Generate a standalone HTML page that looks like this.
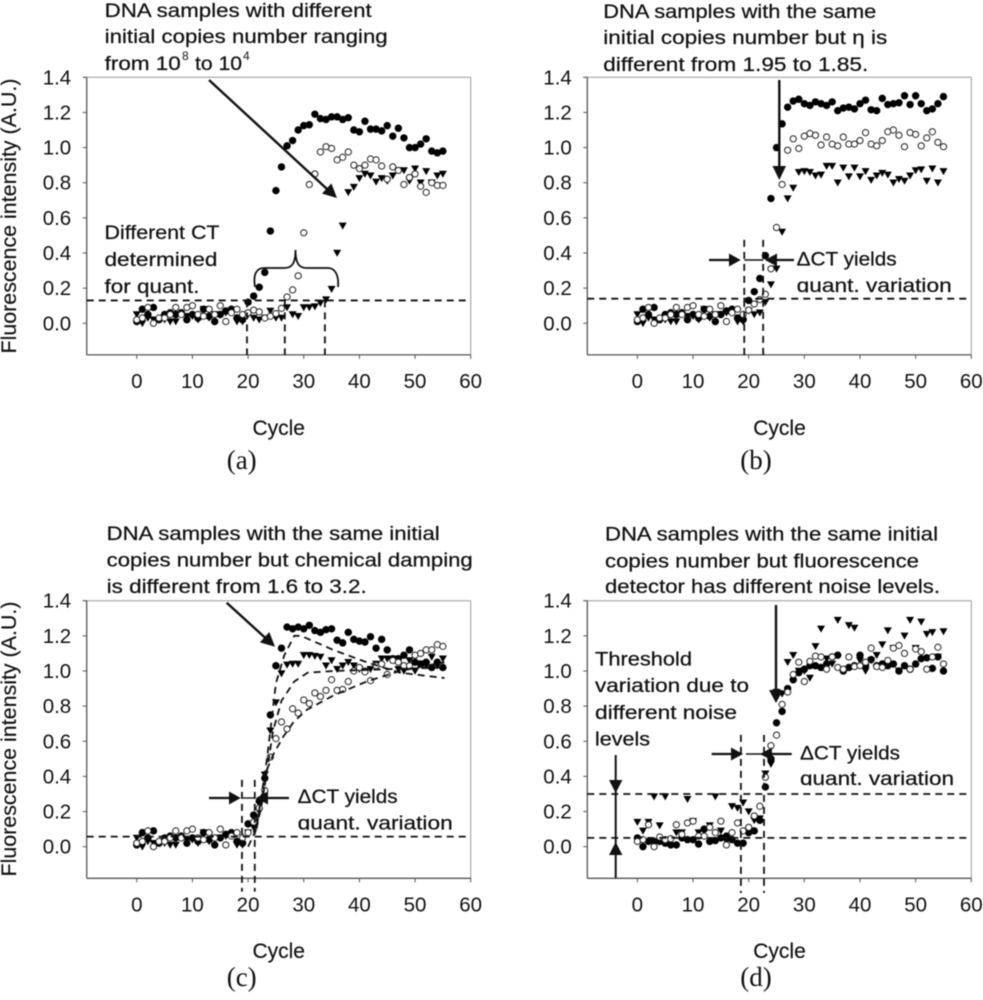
<!DOCTYPE html>
<html lang="en">
<head>
<meta charset="utf-8">
<title>Fluorescence intensity vs cycle, four panels</title>
<style>
html,body{margin:0;padding:0;background:#fff;width:983px;height:1000px;overflow:hidden}
svg{display:block;filter:blur(0.4px)}
text{font-family:"Liberation Sans",sans-serif;fill:#111}
.note{font-size:19.5px;stroke:#111;stroke-width:0.25px}
.lab{font-family:"Liberation Serif",serif;font-size:27px;text-anchor:middle}
.axt{font-size:21px;stroke:#111;stroke-width:0.15px}
</style>
</head>
<body>
<svg id="figure" width="983" height="1000" viewBox="0 0 983 1000" xmlns="http://www.w3.org/2000/svg">
<rect x="0" y="0" width="983" height="1000" fill="#fff"/>

<!-- Panel A -->
<g>
  <g id="plot-a"></g>
  <text class="axt" x="16" y="216" text-anchor="middle" textLength="275" lengthAdjust="spacingAndGlyphs" transform="rotate(-90 16 216)">Fluorescence intensity (A.U.)</text>
  <text class="axt" x="278.7" y="435" text-anchor="middle">Cycle</text>
  <text class="lab" x="241.7" y="469">(a)</text>
  <g>
    <text class="note" x="104.7" y="17" textLength="267" lengthAdjust="spacingAndGlyphs">DNA samples with different</text>
    <text class="note" x="104.7" y="43" textLength="283" lengthAdjust="spacingAndGlyphs">initial copies number ranging</text>
    <text class="note" x="104.7" y="70" textLength="76" lengthAdjust="spacingAndGlyphs">from 10</text>
    <text x="182" y="60" font-size="12">8</text>
    <text class="note" x="195" y="70" textLength="47" lengthAdjust="spacingAndGlyphs">to 10</text>
    <text x="243" y="60" font-size="12">4</text>
  </g>
  <g>
    <line x1="209" y1="80" x2="327" y2="189" stroke="#111" stroke-width="2.4"/>
    <polygon points="337,198 322,193.6 331.4,183.4" fill="#111"/>
  </g>
  <g>
    <text class="note" x="104.5" y="239" textLength="115" lengthAdjust="spacingAndGlyphs">Different CT</text>
    <text class="note" x="104.5" y="266" textLength="113" lengthAdjust="spacingAndGlyphs">determined</text>
    <text class="note" x="104.5" y="293" textLength="95" lengthAdjust="spacingAndGlyphs">for quant.</text>
  </g>
  <path d="M255,287 C253,275 256,268 264,268 L284,268 C291,268 295.5,265 295.5,250 C295.5,265 300,268 307,268 L328,268 C335,268 339,275 338,287" fill="none" stroke="#111" stroke-width="1.8"/>
</g>

<!-- Panel B -->
<g>
  <g id="plot-b"></g>
  <text class="axt" x="779.5" y="435" text-anchor="middle">Cycle</text>
  <text class="lab" x="756" y="469">(b)</text>
  <g>
    <text class="note" x="603.3" y="18" textLength="273" lengthAdjust="spacingAndGlyphs">DNA samples with the same</text>
    <text class="note" x="603.3" y="44" textLength="284" lengthAdjust="spacingAndGlyphs">initial copies number but η is</text>
    <text class="note" x="603.3" y="71" textLength="265" lengthAdjust="spacingAndGlyphs">different from 1.95 to 1.85.</text>
  </g>
  <g>
    <line x1="779.3" y1="80" x2="779.3" y2="168" stroke="#111" stroke-width="2.4"/>
    <polygon points="772.5,166 786,166 779.3,180" fill="#111"/>
  </g>
  <g>
    <line x1="709" y1="260" x2="730" y2="260" stroke="#111" stroke-width="2.2"/>
    <polygon points="729,253.5 729,266.5 740.7,260" fill="#111"/>
    <line x1="744.3" y1="260" x2="763.3" y2="260" stroke="#111" stroke-width="1.4"/>
    <line x1="794" y1="260" x2="776" y2="260" stroke="#111" stroke-width="2.2"/>
    <polygon points="777,253.5 777,266.5 765,260" fill="#111"/>
  </g>
  <text class="note" x="796.7" y="265.7" textLength="100" lengthAdjust="spacingAndGlyphs">ΔCT yields</text>
  <text class="note" x="796.7" y="292" textLength="155" lengthAdjust="spacingAndGlyphs">quant. variation</text>
  <rect x="795" y="292.5" width="30" height="4" fill="#fff"/>
</g>

<!-- Panel C -->
<g>
  <g id="plot-c"></g>
  <text class="axt" x="16" y="739" text-anchor="middle" textLength="275" lengthAdjust="spacingAndGlyphs" transform="rotate(-90 16 739)">Fluorescence intensity (A.U.)</text>
  <text class="axt" x="278.7" y="958" text-anchor="middle">Cycle</text>
  <text class="lab" x="241.7" y="986">(c)</text>
  <g>
    <text class="note" x="106.7" y="540" textLength="333" lengthAdjust="spacingAndGlyphs">DNA samples with the same initial</text>
    <text class="note" x="106.7" y="566.7" textLength="366" lengthAdjust="spacingAndGlyphs">copies number but chemical damping</text>
    <text class="note" x="106.7" y="593" textLength="260" lengthAdjust="spacingAndGlyphs">is different from 1.6 to 3.2.</text>
  </g>
  <g>
    <line x1="226.7" y1="602.7" x2="266" y2="638.5" stroke="#111" stroke-width="2.4"/>
    <polygon points="275,646.7 259.9,642.4 269.3,632" fill="#111"/>
  </g>
  <g>
    <line x1="209" y1="798" x2="230" y2="798" stroke="#111" stroke-width="2.2"/>
    <polygon points="229,791.5 229,804.5 240.7,798" fill="#111"/>
    <line x1="243" y1="798" x2="254" y2="798" stroke="#111" stroke-width="1.4"/>
    <line x1="289" y1="798" x2="267" y2="798" stroke="#111" stroke-width="2.2"/>
    <polygon points="268,791.5 268,804.5 256,798" fill="#111"/>
  </g>
  <text class="note" x="297.7" y="803" textLength="100" lengthAdjust="spacingAndGlyphs">ΔCT yields</text>
  <text class="note" x="297.7" y="829.3" textLength="155" lengthAdjust="spacingAndGlyphs">quant. variation</text>
  <rect x="296" y="829.8" width="30" height="4" fill="#fff"/>
</g>

<!-- Panel D -->
<g>
  <g id="plot-d"></g>
  <text class="axt" x="779.5" y="958" text-anchor="middle">Cycle</text>
  <text class="lab" x="756" y="986">(d)</text>
  <g>
    <text class="note" x="605" y="540.7" textLength="333" lengthAdjust="spacingAndGlyphs">DNA samples with the same initial</text>
    <text class="note" x="605" y="567.3" textLength="314" lengthAdjust="spacingAndGlyphs">copies number but fluorescence</text>
    <text class="note" x="605" y="593" textLength="335" lengthAdjust="spacingAndGlyphs">detector has different noise levels.</text>
  </g>
  <g>
    <text class="note" x="595" y="665.7" textLength="97" lengthAdjust="spacingAndGlyphs">Threshold</text>
    <text class="note" x="595" y="692" textLength="154" lengthAdjust="spacingAndGlyphs">variation due to</text>
    <text class="note" x="595" y="719" textLength="142" lengthAdjust="spacingAndGlyphs">different noise</text>
    <text class="note" x="595" y="745.7" textLength="55" lengthAdjust="spacingAndGlyphs">levels</text>
  </g>
  <g>
    <line x1="615.7" y1="755" x2="615.7" y2="878" stroke="#111" stroke-width="2"/>
    <polygon points="609,780 622.4,780 615.7,793" fill="#111"/>
    <polygon points="609,855 622.4,855 615.7,842" fill="#111"/>
  </g>
  <g>
    <line x1="776" y1="605" x2="776" y2="692" stroke="#111" stroke-width="2.4"/>
    <polygon points="769,690 783,690 776,703" fill="#111"/>
  </g>
  <g>
    <line x1="711.7" y1="754" x2="732" y2="754" stroke="#111" stroke-width="2.2"/>
    <polygon points="731,747.5 731,760.5 743,754" fill="#111"/>
    <line x1="746" y1="754" x2="763" y2="754" stroke="#111" stroke-width="1.4"/>
    <line x1="791.7" y1="754" x2="771" y2="754" stroke="#111" stroke-width="2.2"/>
    <polygon points="772,747.5 772,760.5 760,754" fill="#111"/>
  </g>
  <text class="note" x="800" y="759.3" textLength="100" lengthAdjust="spacingAndGlyphs">ΔCT yields</text>
  <text class="note" x="800" y="785" textLength="154" lengthAdjust="spacingAndGlyphs">quant. variation</text>
  <rect x="798" y="785.5" width="30" height="4" fill="#fff"/>
</g>
</svg>

<script>
var xTickValues = [0, 10, 20, 30, 40, 50, 60];
var xTickLabels = ['0', '10', '20', '30', '40', '50', '60'];
var yTickValues = [0, 0.2, 0.4, 0.6, 0.8, 1.0, 1.2, 1.4];
var yTickLabels = ['0.0', '0.2', '0.4', '0.6', '0.8', '1.0', '1.2', '1.4'];

var aCircles = [.01,.08,.05,.09,.02,.05,.06,.05,.06,.02,.05,.03,.08,.04,.01,.05,.07,.08,.03,.02,.12,.155,.205,.29,.525,.755,.89,1.01,1.04,1.10,1.125,1.13,1.19,1.165,1.16,1.175,1.175,1.16,1.17,1.10,1.09,1.15,1.105,1.105,1.095,1.125,1.065,1.11,1.055,1.0,1.0,1.02,1.05,.98,.97,.98];
var aOpen = [.02,.03,.09,0,.03,.03,.05,.09,.05,.09,.10,.05,.04,.08,.05,.10,.01,.06,.08,.05,.06,.075,.065,.03,.04,.055,.085,.15,.19,.27,.515,.79,.85,.975,1.005,.995,.93,.945,.975,.9,.88,.9,.935,.93,.895,.82,.89,.87,.79,.83,.85,.78,.745,.80,.785,.785];
var aTriangles = [.05,0,.03,.02,.02,.02,.01,.01,.05,.04,.04,.02,.08,.03,.05,.05,.06,.07,.01,.01,.05,.03,.02,.03,.07,.03,.03,.09,.05,.04,.09,.09,.095,.115,.135,.195,.40,.555,.745,.775,.825,.85,.84,.805,.825,.81,.84,.87,.87,.81,.88,.80,.865,.80,.84,.85];
var aThresholds = [0.13];
var aCtCycles = [19.8, 26.6, 33.8];
var aCtRange = [0.13, -0.18];

var bCircles = [.01,.08,.05,.09,.02,.05,.06,.05,.06,.02,.05,.03,.08,.04,.01,.05,.07,.08,.03,.02,.13,.18,.255,.385,.71,1.0,1.135,1.23,1.265,1.275,1.25,1.24,1.26,1.25,1.24,1.26,1.21,1.225,1.23,1.22,1.25,1.27,1.215,1.21,1.28,1.245,1.25,1.255,1.295,1.245,1.295,1.25,1.21,1.22,1.25,1.29];
var bOpen = [.02,.03,.09,0,.03,.03,.05,.09,.05,.09,.10,.05,.04,.08,.05,.10,.01,.06,.08,.05,.075,.11,.135,.165,.31,.545,.79,.985,1.05,.995,1.065,1.08,1.07,1.015,1.06,1.02,1.01,1.06,1.02,1.02,1.04,1.085,1.02,1.01,1.04,1.09,1.10,1.07,1.005,1.085,1.075,1.01,1.055,1.09,1.03,1.005];
var bTriangles = [.05,0,.03,.02,.02,.02,.01,.01,.05,.04,.04,.02,.08,.03,.05,.05,.06,.07,.01,.01,.07,.05,.06,.12,.22,.31,.52,.71,.77,.86,.865,.86,.84,.845,.895,.895,.80,.885,.835,.885,.835,.865,.815,.84,.855,.845,.80,.82,.81,.84,.87,.875,.81,.88,.80,.865];
var bThresholds = [0.14];
var bCtCycles = [19.2, 22.6];
var bCtRange = [0.475, -0.2];

var cCircles = [.01,.08,.05,.09,.02,.05,.06,.05,.06,.02,.05,.03,.08,.04,.01,.05,.07,.08,.03,.02,.13,.18,.26,.39,.75,1.03,1.13,1.25,1.24,1.25,1.24,1.26,1.23,1.22,1.235,1.24,1.175,1.16,1.22,1.18,1.17,1.165,1.195,1.13,1.18,1.12,1.07,1.07,1.09,1.12,1.05,1.04,1.05,1.02,1.05,1.02];
var cOpen = [.02,.03,.09,0,.03,.03,.05,.09,.05,.09,.10,.05,.04,.08,.05,.10,.01,.06,.08,.05,.08,.14,.22,.32,.51,.615,.71,.67,.785,.76,.835,.815,.875,.855,.89,.95,.89,.895,.94,1.0,1.02,.995,.945,1.03,1.04,.98,1.06,1.05,1.03,1.03,1.09,1.10,1.12,1.12,1.15,1.14];
var cTriangles = [.05,0,.03,.02,.02,.02,.01,.01,.05,.04,.04,.02,.08,.03,.05,.05,.06,.07,.01,.01,.08,.11,.2,.41,.66,.82,.985,1.035,1.04,1.04,1.09,1.09,1.085,1.08,1.03,1.06,1.01,1.03,1.05,1.03,1.01,1.0,1.01,1.04,1.07,1.07,1.07,1.01,1.0,1.06,1.0,1.04,1.03,1.08,1.03,1.07];
var cThresholds = [0.057];
var cCtCycles = [18.9, 21.2];
var cCtRange = [0.38, -0.256];
var cFitHighCycles = [20, 21.5, 23.4, 25, 26.5, 28.3, 29.5, 35.3, 41.3, 47.3, 55.3];
var cFitHighValues = [0, .1, .5, .93, 1.09, 1.2, 1.2, 1.12, 1.05, .99, .96];
var cFitMidCycles = [21, 23, 24.5, 26, 28.3, 30.7, 35.3, 45, 55];
var cFitMidValues = [.08, .35, .66, .83, .94, .99, 1.0, 1.01, 1.02];
var cFitLowCycles = [21.5, 22.5, 23.4, 24.6, 26.4, 28.2, 30.6, 35.3, 41.3, 47.3, 55.3];
var cFitLowValues = [.1, .25, .44, .53, .63, .71, .78, .86, .94, 1.0, 1.05];

var dCircles = [.05,0,.03,.03,.03,.02,.01,.01,.05,.04,.04,.015,.1,.03,.035,.05,.06,.04,.02,.02,.08,.09,.15,.34,.5,.705,.77,.9,.95,.99,1.01,1.03,1.03,1.02,1.04,1.08,1.09,1.0,1.02,1.03,1.09,1.03,1.065,1.03,1.04,1.03,1.04,1.0,1.03,1.01,1.04,1.07,1.075,1.015,1.08,1.0];
var dOpen = [.03,.04,.125,0,.055,.04,.045,.125,.07,.135,.145,.06,.06,.11,.08,.145,.01,.08,.135,.09,.11,.175,.23,.395,.575,.635,.81,.88,.98,1.05,.94,1.055,1.085,1.08,1.01,1.08,1.02,1.01,1.08,1.025,1.03,1.05,1.13,1.025,1.02,1.06,1.13,1.145,1.1,1.01,1.125,1.11,1.01,1.08,1.135,1.04];
var dTriangles = [.14,.09,.14,.285,.12,.285,.04,.08,.08,.27,.145,.08,.09,.12,.285,.09,.03,.23,.22,.25,.2,.15,.16,.415,.47,.88,.87,1.05,1.09,1.0,1.0,.96,1.14,1.24,1.07,1.04,1.29,1.0,1.26,1.245,1.06,1.0,1.06,1.09,1.15,1.23,1.13,1.0,1.2,1.29,1.13,1.28,1.21,1.22,1.08,1.225];
var dThresholds = [0.3, 0.05];
var dCtCycles = [18.6, 22.75];
var dCtRange = [0.636, -0.264];

var xDomain = [-9, 60];
var yDomain = [-0.18, 1.4];

var NS = 'http://www.w3.org/2000/svg';

function make(tag, parent, name, attrs) {
  var el = document.createElementNS(NS, tag);
  for (var k in attrs) { el.setAttribute(k, attrs[k]); }
  
  
  parent.appendChild(el);
  return el;
}

function scaleX(frame, v) {
  return frame.left + (v - xDomain[0]) / (xDomain[1] - xDomain[0]) * frame.width;
}
function scaleY(frame, v) {
  return frame.top + (yDomain[1] - v) / (yDomain[1] - yDomain[0]) * frame.height;
}

function drawAxes(g, frame) {
  var r = frame.left + frame.width;
  var b = frame.top + frame.height;
  make('line', g, 'plot-frame-top', {x1: frame.left - 4, x2: r, y1: frame.top, y2: frame.top, stroke: '#999', 'stroke-width': 1});
  make('line', g, 'plot-frame-right', {x1: r, x2: r, y1: frame.top, y2: b, stroke: '#999', 'stroke-width': 1});
  make('line', g, 'plot-frame-left', {x1: frame.left, x2: frame.left, y1: frame.top, y2: b, stroke: '#555', 'stroke-width': 1.3});
  make('line', g, 'plot-frame-bottom', {x1: frame.left, x2: r, y1: b, y2: b, stroke: '#555', 'stroke-width': 1.3});
  xTickValues.forEach(function (v, i) {
    var x = scaleX(frame, v);
    make('line', g, 'x-tick', {x1: x, x2: x, y1: b, y2: b + 4, stroke: '#555', 'stroke-width': 1});
    var t = make('text', g, 'x-tick-label', {x: x, y: b + 33, 'text-anchor': 'middle', 'font-size': 20.5, fill: '#222'});
    t.textContent = xTickLabels[i];
  });
  yTickValues.forEach(function (v, i) {
    var y = scaleY(frame, v);
    make('line', g, 'y-tick', {x1: frame.left - 4, x2: frame.left, y1: y, y2: y, stroke: '#555', 'stroke-width': 1});
    var t = make('text', g, 'y-tick-label', {x: frame.left - 15.5, y: y + 7, 'text-anchor': 'end', 'font-size': 20.5, fill: '#222'});
    t.textContent = yTickLabels[i];
  });
}

function drawReferenceLines(g, frame, thresholds, ctCycles, ctRange) {
  thresholds.forEach(function (v) {
    var y = scaleY(frame, v);
    make('line', g, 'threshold-line', {x1: frame.left, x2: frame.left + frame.width, y1: y, y2: y, stroke: '#111', 'stroke-width': 1.8, 'stroke-dasharray': '7 5'});
  });
  ctCycles.forEach(function (c) {
    var x = scaleX(frame, c);
    make('line', g, 'ct-line', {x1: x, x2: x, y1: scaleY(frame, ctRange[0]), y2: scaleY(frame, ctRange[1]), stroke: '#111', 'stroke-width': 1.8, 'stroke-dasharray': '7 5'});
  });
}

function drawFit(g, frame, cycles, values) {
  var d = cycles.map(function (c, i) {
    return (i ? 'L' : 'M') + scaleX(frame, c).toFixed(1) + ',' + scaleY(frame, values[i]).toFixed(1);
  }).join(' ');
  make('path', g, 'fit-curve', {d: d, fill: 'none', stroke: '#111', 'stroke-width': 1.8, 'stroke-dasharray': '7 5'});
}

function drawCircles(g, frame, values) {
  values.forEach(function (v, i) {
    make('circle', g, 'filled-circle-point', {cx: scaleX(frame, i), cy: scaleY(frame, v), r: 3.7, fill: '#000'});
  });
}
function drawOpen(g, frame, values) {
  values.forEach(function (v, i) {
    make('circle', g, 'open-circle-point', {cx: scaleX(frame, i), cy: scaleY(frame, v), r: 3.1, fill: '#fff', stroke: '#222', 'stroke-width': 1});
  });
}
function drawTriangles(g, frame, values) {
  values.forEach(function (v, i) {
    var x = scaleX(frame, i);
    var y = scaleY(frame, v);
    var pts = (x - 4) + ',' + (y - 3.2) + ' ' + (x + 4) + ',' + (y - 3.2) + ' ' + x + ',' + (y + 3.8);
    make('polygon', g, 'triangle-point', {points: pts, fill: '#000'});
  });
}

function drawPanel(id, frame, circles, open, triangles, thresholds, ctCycles, ctRange) {
  var g = document.getElementById(id);
  drawAxes(g, frame);
  drawCircles(g, frame, circles);
  drawTriangles(g, frame, triangles);
  drawOpen(g, frame, open);
  drawReferenceLines(g, frame, thresholds, ctCycles, ctRange);
  return g;
}

var frameA = {left: 86.7, top: 77.3, width: 384, height: 277.6};
var frameB = {left: 587.3, top: 77.3, width: 384, height: 277.6};
var frameC = {left: 86.7, top: 600.7, width: 384, height: 277.6};
var frameD = {left: 587.3, top: 600.7, width: 384, height: 277.6};

drawPanel('plot-a', frameA, aCircles, aOpen, aTriangles, aThresholds, aCtCycles, aCtRange);
drawPanel('plot-b', frameB, bCircles, bOpen, bTriangles, bThresholds, bCtCycles, bCtRange);
var plotC = drawPanel('plot-c', frameC, cCircles, cOpen, cTriangles, cThresholds, cCtCycles, cCtRange);
drawFit(plotC, frameC, cFitHighCycles, cFitHighValues);
drawFit(plotC, frameC, cFitMidCycles, cFitMidValues);
drawFit(plotC, frameC, cFitLowCycles, cFitLowValues);
drawPanel('plot-d', frameD, dCircles, dOpen, dTriangles, dThresholds, dCtCycles, dCtRange);
</script>
</body>
</html>
